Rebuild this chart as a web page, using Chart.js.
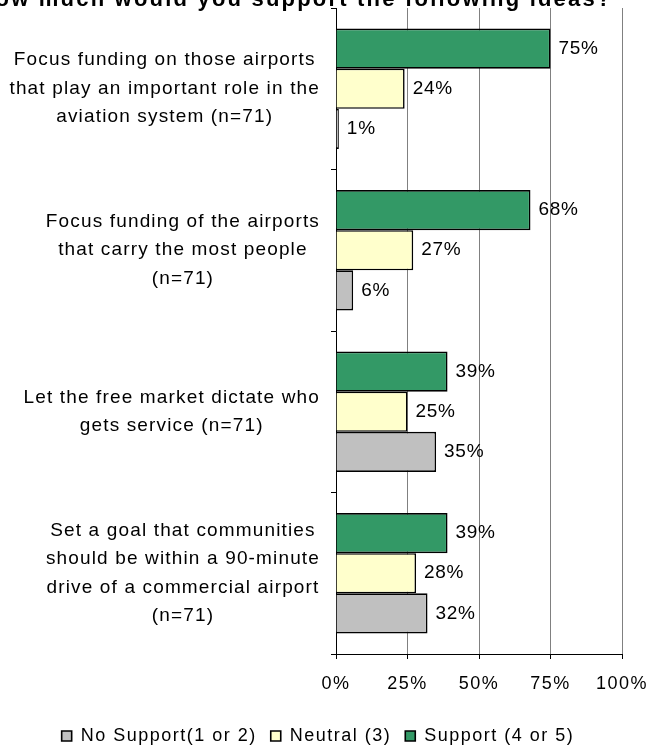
<!DOCTYPE html>
<html lang="en">
<head>
<meta charset="UTF-8">
<title>Support for airport funding ideas</title>
<style>
  html, body { margin: 0; padding: 0; background: #fff; }
  .wrap { position: relative; width: 663px; height: 748px; }
</style>
</head>
<body>
<div class="wrap"><canvas id="chart"></canvas></div>

<script src="https://cdn.jsdelivr.net/npm/chart.js"></script>
<script>
  const titleText = 'How much would you support the following ideas?';
  const categories = [
    ['Focus funding on those airports', 'that play an important role in the', 'aviation system (n=71)'],
    ['Focus funding of the airports', 'that carry the most people', '(n=71)'],
    ['Let the free market dictate who', 'gets service (n=71)'],
    ['Set a goal that communities', 'should be within a 90-minute', 'drive of a commercial airport', '(n=71)']
  ];
  const seriesNames = ['Support (4 or 5)', 'Neutral (3)', 'No Support(1 or 2)'];
  const supportVals = [75, 68, 39, 39];
  const neutralVals = [24, 27, 25, 28];
  const noSupportVals = [1, 6, 35, 32];
  const xTicks = [0, 25, 50, 75, 100];

  const FONT = "'Liberation Sans', Arial, sans-serif";

  // the source picture is stretched sideways, so text gets some extra spacing
  const spacing = {
    id: 'spacing',
    beforeLayout(chart) { chart.ctx.letterSpacing = '1.5px'; },
    beforeDraw(chart) { chart.ctx.letterSpacing = '1.5px'; }
  };

  // category labels: each block centred on itself, right edge near the axis
  const catLabels = {
    id: 'catLabels',
    afterDraw(chart) {
      const { ctx } = chart;
      const y = chart.scales.y;
      ctx.save();
      ctx.font = '19px ' + FONT;
      ctx.letterSpacing = '1.15px';
      ctx.fillStyle = '#000';
      ctx.textAlign = 'center';
      ctx.textBaseline = 'middle';
      const right = y.right - 16;
      categories.forEach((lines, i) => {
        const yc = y.getPixelForValue(i);
        const widest = Math.max(...lines.map(l => ctx.measureText(l).width));
        const xc = right - widest / 2;
        lines.forEach((l, j) => {
          ctx.fillText(l, xc, yc + (j - (lines.length - 1) / 2) * 28.5);
        });
      });
      ctx.restore();
    }
  };

  const valueLabels = {
    id: 'valueLabels',
    afterDatasetsDraw(chart) {
      const { ctx } = chart;
      ctx.save();
      ctx.font = '19px ' + FONT;
      ctx.letterSpacing = '0.7px';
      ctx.fillStyle = '#000';
      ctx.textAlign = 'left';
      ctx.textBaseline = 'middle';
      chart.data.datasets.forEach((ds, di) => {
        chart.getDatasetMeta(di).data.forEach((bar, i) => {
          ctx.fillText(ds.data[i] + '%', bar.x + 8, bar.y);
        });
      });
      ctx.restore();
    }
  };

  // title is cut off by the top edge in the original
  const topTitle = {
    id: 'topTitle',
    afterDraw(chart) {
      const { ctx } = chart;
      ctx.save();
      ctx.font = 'bold 22px ' + FONT;
      ctx.letterSpacing = '2.2px';
      ctx.fillStyle = '#000';
      ctx.textAlign = 'center';
      ctx.textBaseline = 'alphabetic';
      ctx.fillText(titleText, 295, 6);
      ctx.restore();
    }
  };

  const legendShift = {
    id: 'legendShift',
    afterLayout(chart) {
      const lg = chart.legend;
      lg.left += 7;
      lg.right += 7;
      lg.top += 7;
      lg.bottom += 7;
    }
  };

  const ctx = document.getElementById('chart').getContext('2d');
  new Chart(ctx, {
    type: 'bar',
    data: {
      labels: categories,
      datasets: [{
        label: seriesNames[0],
        data: supportVals,
        backgroundColor: '#339966',
        borderColor: '#000',
        borderWidth: 1.6
      }, {
        label: seriesNames[1],
        data: neutralVals,
        backgroundColor: '#FFFFCC',
        borderColor: '#000',
        borderWidth: 1.6
      }, {
        label: seriesNames[2],
        data: noSupportVals,
        backgroundColor: '#C0C0C0',
        borderColor: '#000',
        borderWidth: 1.6
      }]
    },
    options: {
      indexAxis: 'y',
      responsive: true,
      maintainAspectRatio: false,
      animation: false,
      layout: {
        padding: { top: 8, right: 41, left: 0, bottom: 0 }
      },
      datasets: {
        bar: { categoryPercentage: 0.745, barPercentage: 1 }
      },
      scales: {
        x: {
          min: 0,
          max: 100,
          afterBuildTicks: scale => { scale.ticks = xTicks.map(v => ({ value: v })); },
          afterFit: scale => { scale.height = 52; },
          ticks: {
            callback: v => v + '%',
            color: '#000',
            padding: 14,
            maxRotation: 0,
            font: { family: FONT, size: 18 }
          },
          grid: {
            color: '#808080',
            lineWidth: 1,
            tickColor: '#000',
            tickLength: 5
          },
          border: { color: '#000', width: 1 }
        },
        y: {
          afterFit: scale => { scale.width = 336; },
          ticks: { display: false },
          grid: {
            offset: true,
            drawOnChartArea: false,
            drawTicks: true,
            tickLength: 5,
            color: '#000'
          },
          border: { color: '#000', width: 1 }
        }
      },
      plugins: {
        legend: {
          position: 'bottom',
          reverse: true,
          labels: {
            boxWidth: 10,
            boxHeight: 10,
            padding: 14,
            color: '#000',
            font: { family: FONT, size: 18 }
          }
        },
        title: { display: false },
        tooltip: { enabled: false }
      }
    },
    plugins: [spacing, catLabels, valueLabels, topTitle, legendShift]
  });
</script>
</body>
</html>
